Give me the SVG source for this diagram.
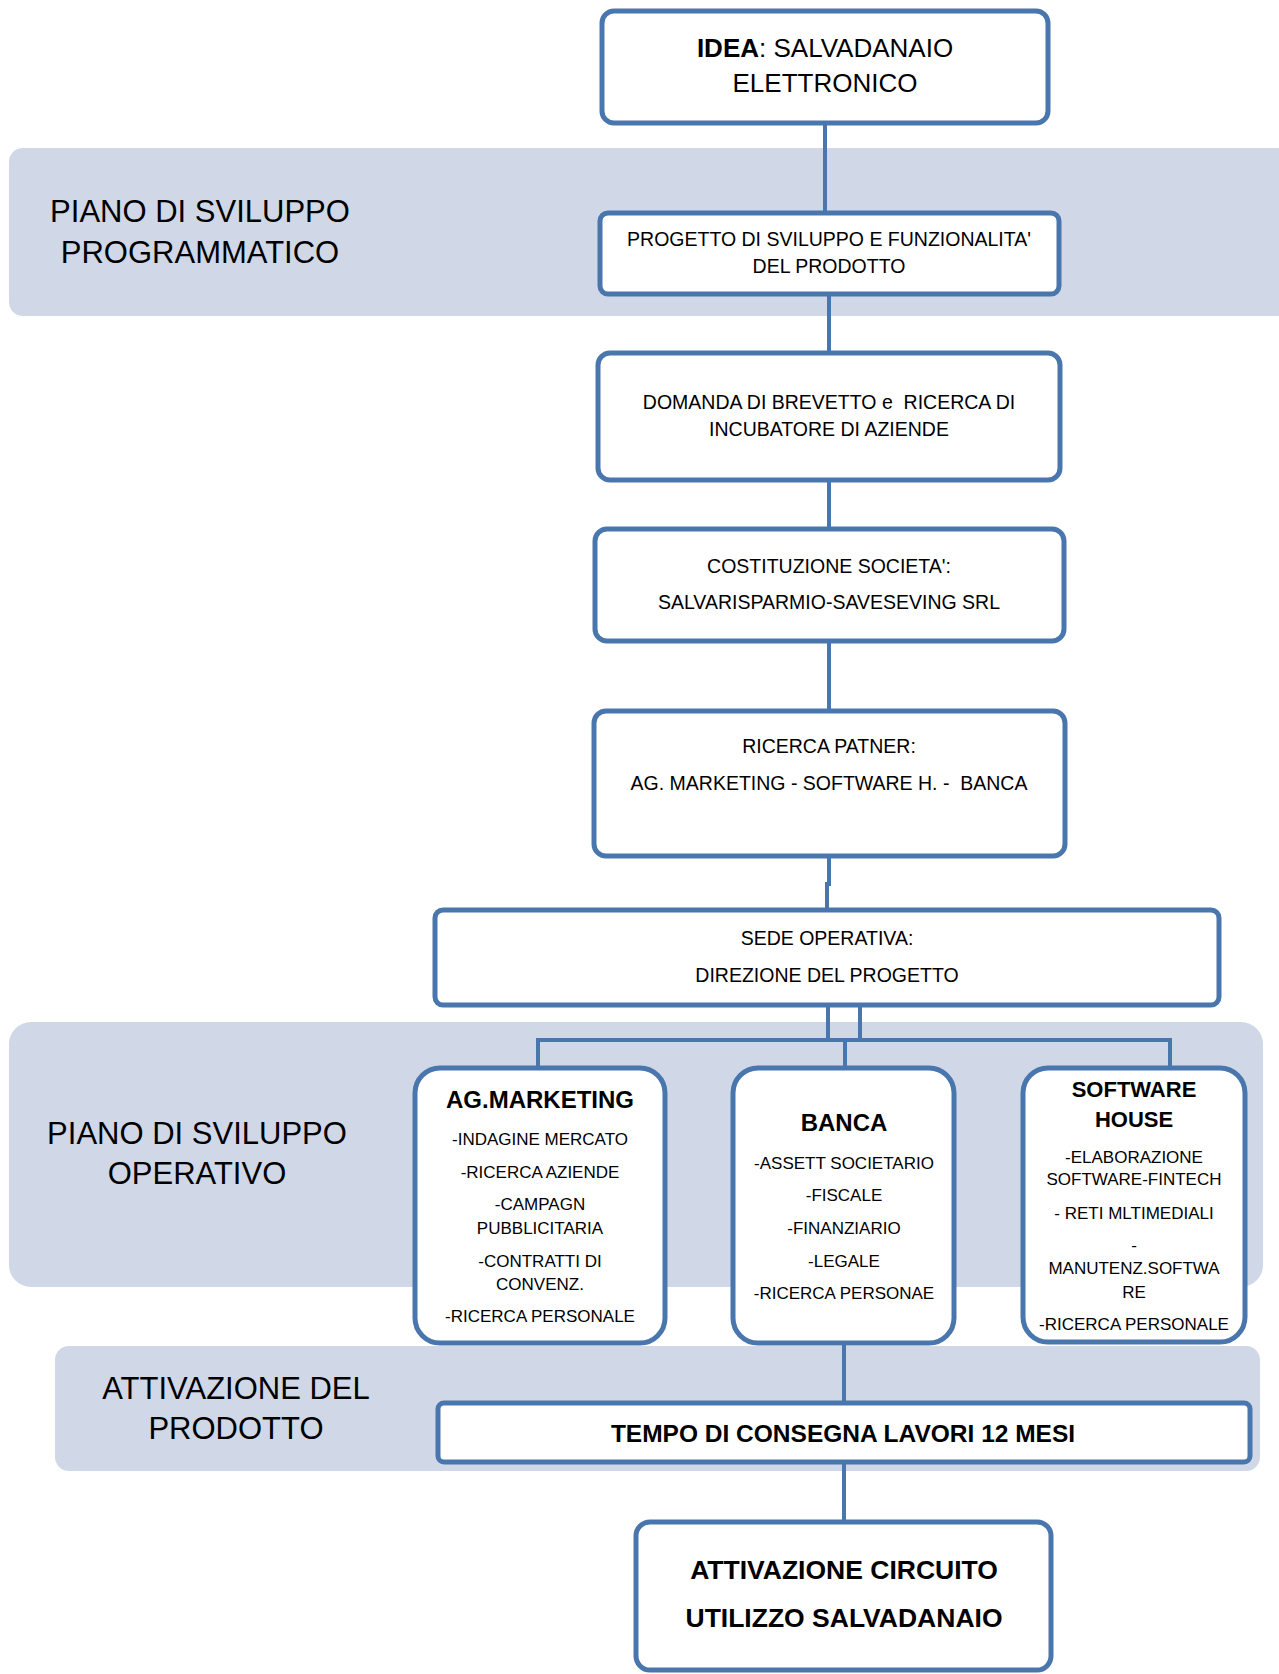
<svg xmlns="http://www.w3.org/2000/svg" width="1279" height="1674" viewBox="0 0 1279 1674">
<style>
.band{fill:#D0D8E7;stroke:none}
.box{fill:#FFFFFF;stroke:#4A76AE;stroke-width:5}
.con{fill:none;stroke:#4A76AE;stroke-width:4}
text{font-family:"Liberation Sans",Arial,sans-serif;fill:#000;text-anchor:middle;dominant-baseline:central}
.lbl{font-size:31px}
.t{font-size:19.5px}
.l{font-size:17px}
.b{font-weight:bold}
</style>
<rect width="1279" height="1674" fill="#FFFFFF"/>
<g id="bands">
<rect class="band" x="9" y="148" width="1284" height="168" rx="14"/>
<rect class="band" x="9" y="1022" width="1254" height="265" rx="22"/>
<rect class="band" x="55" y="1346" width="1205" height="125" rx="14"/>
<text class="lbl" x="200" y="211">PIANO DI SVILUPPO</text>
<text class="lbl" x="200" y="252">PROGRAMMATICO</text>
<text class="lbl" x="197" y="1133">PIANO DI SVILUPPO</text>
<text class="lbl" x="197" y="1173">OPERATIVO</text>
<text class="lbl" x="236" y="1388">ATTIVAZIONE DEL</text>
<text class="lbl" x="236" y="1428">PRODOTTO</text>
</g>
<g id="connectors">
<path class="con" d="M825 123 V213"/>
<path class="con" d="M829 294 V353"/>
<path class="con" d="M829 480 V529"/>
<path class="con" d="M829 641 V711"/>
<path class="con" d="M829 856 V884 H827 V910"/>
<path class="con" d="M828 1005 V1040"/>
<path class="con" d="M860 1005 V1040"/>
<path class="con" d="M538 1068 V1040 H1170 V1068"/>
<path class="con" d="M845 1040 V1068"/>
<path class="con" d="M844 1343 V1403"/>
<path class="con" d="M844 1462 V1522"/>
</g>
<g id="idea">
<rect class="box" x="602" y="11" width="446" height="112" rx="12"/>
<text x="825" y="48" style="font-size:26px"><tspan class="b">IDEA</tspan>: SALVADANAIO</text>
<text x="825" y="83" style="font-size:26px">ELETTRONICO</text>
</g>
<g id="progetto">
<rect class="box" x="600" y="213" width="459" height="81" rx="8"/>
<text class="t" x="829" y="239">PROGETTO DI SVILUPPO E FUNZIONALITA'</text>
<text class="t" x="829" y="266">DEL PRODOTTO</text>
</g>
<g id="domanda">
<rect class="box" x="598" y="353" width="462" height="127" rx="12"/>
<text class="t" x="829" y="402" xml:space="preserve">DOMANDA DI BREVETTO e  RICERCA DI</text>
<text class="t" x="829" y="429">INCUBATORE DI AZIENDE</text>
</g>
<g id="costituzione">
<rect class="box" x="595" y="529" width="469" height="112" rx="12"/>
<text class="t" x="829" y="566">COSTITUZIONE SOCIETA':</text>
<text class="t" x="829" y="602">SALVARISPARMIO-SAVESEVING SRL</text>
</g>
<g id="ricerca">
<rect class="box" x="594" y="711" width="471" height="145" rx="12"/>
<text class="t" x="829" y="746">RICERCA PATNER:</text>
<text class="t" x="829" y="783" xml:space="preserve">AG. MARKETING - SOFTWARE H. -  BANCA</text>
</g>
<g id="sede">
<rect class="box" x="435" y="910" width="784" height="95" rx="8"/>
<text class="t" x="827" y="938">SEDE OPERATIVA:</text>
<text class="t" x="827" y="975">DIREZIONE DEL PROGETTO</text>
</g>
<g id="agmarketing">
<rect class="box" x="415" y="1068" width="250" height="275" rx="25"/>
<text class="b" x="540" y="1099" style="font-size:24px">AG.MARKETING</text>
<text class="l" x="540" y="1139">-INDAGINE MERCATO</text>
<text class="l" x="540" y="1172">-RICERCA AZIENDE</text>
<text class="l" x="540" y="1204">-CAMPAGN</text>
<text class="l" x="540" y="1228">PUBBLICITARIA</text>
<text class="l" x="540" y="1261">-CONTRATTI DI</text>
<text class="l" x="540" y="1284">CONVENZ.</text>
<text class="l" x="540" y="1316">-RICERCA PERSONALE</text>
</g>
<g id="banca">
<rect class="box" x="733" y="1068" width="221" height="275" rx="25"/>
<text class="b" x="844" y="1122" style="font-size:24px">BANCA</text>
<text class="l" x="844" y="1163">-ASSETT SOCIETARIO</text>
<text class="l" x="844" y="1195">-FISCALE</text>
<text class="l" x="844" y="1228">-FINANZIARIO</text>
<text class="l" x="844" y="1261">-LEGALE</text>
<text class="l" x="844" y="1293">-RICERCA PERSONAE</text>
</g>
<g id="softwarehouse">
<rect class="box" x="1023" y="1068" width="222" height="274" rx="25"/>
<text class="b" x="1134" y="1089" style="font-size:22px">SOFTWARE</text>
<text class="b" x="1134" y="1119" style="font-size:22px">HOUSE</text>
<text class="l" x="1134" y="1157">-ELABORAZIONE</text>
<text class="l" x="1134" y="1179">SOFTWARE-FINTECH</text>
<text class="l" x="1134" y="1213">- RETI MLTIMEDIALI</text>
<text class="l" x="1134" y="1245">-</text>
<text class="l" x="1134" y="1268">MANUTENZ.SOFTWA</text>
<text class="l" x="1134" y="1292">RE</text>
<text class="l" x="1134" y="1324">-RICERCA PERSONALE</text>
</g>
<g id="tempo">
<rect class="box" x="438" y="1403" width="812" height="59" rx="6"/>
<text class="b" x="843" y="1433" style="font-size:24.5px">TEMPO DI CONSEGNA LAVORI 12 MESI</text>
</g>
<g id="attivazione">
<rect class="box" x="636" y="1522" width="415" height="148" rx="14"/>
<text class="b" x="844" y="1570" style="font-size:26.5px">ATTIVAZIONE CIRCUITO</text>
<text class="b" x="844" y="1618" style="font-size:26.5px">UTILIZZO SALVADANAIO</text>
</g>
</svg>
